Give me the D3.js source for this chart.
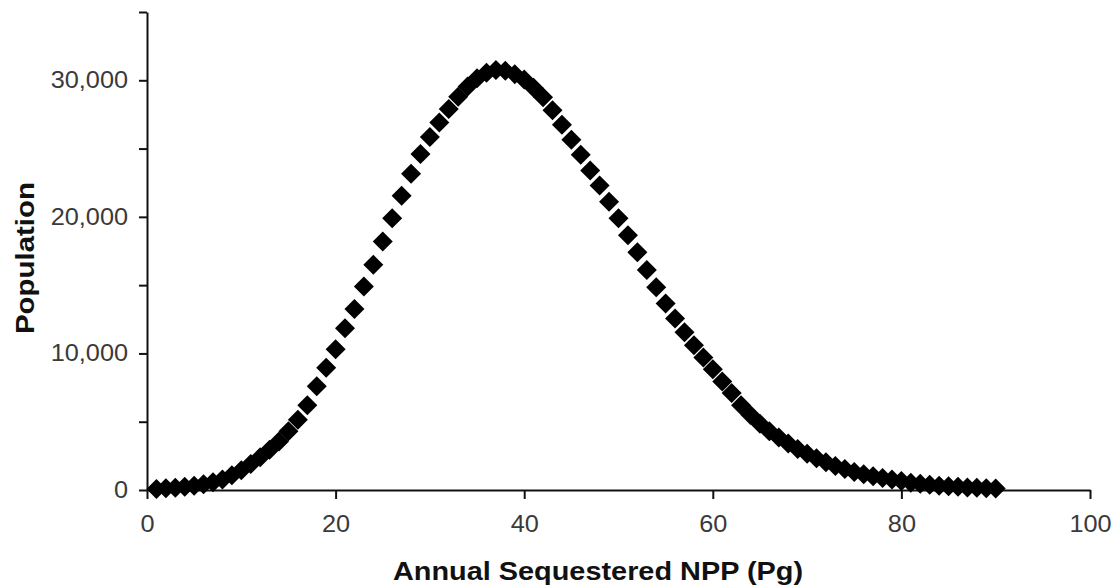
<!DOCTYPE html>
<html>
<head>
<meta charset="utf-8">
<script src="https://cdn.jsdelivr.net/npm/d3@7"></script>
<style>
  body { margin: 0; background: #fff; }
  svg { display: block; font-family: "Liberation Sans", Arial, sans-serif; }
</style>
</head>
<body>
<div id="chart"></div>
<script>
// NPP values (Pg) - one point per unit
var npp = [1,2,3,4,5,6,7,8,9,10,11,12,13,14,15,16,17,18,19,20,
  21,22,23,24,25,26,27,28,29,30,31,32,33,34,35,36,37,38,39,40,
  41,42,43,44,45,46,47,48,49,50,51,52,53,54,55,56,57,58,59,60,
  61,62,63,64,65,66,67,68,69,70,71,72,73,74,75,76,77,78,79,80,
  81,82,83,84,85,86,87,88,89,90];

// population
var population = [80,120,170,230,310,420,560,760,1080,1450,
  1900,2400,2950,3550,4300,5150,6200,7600,8950,10300,
  11850,13250,14900,16500,18200,19900,21550,23150,24600,25850,
  26900,27900,28800,29550,30150,30550,30750,30700,30450,30050,
  29450,28750,27800,26750,25650,24550,23400,22300,21100,19900,
  18650,17400,16100,14850,13650,12550,11550,10600,9700,8850,
  7950,7100,6200,5500,4850,4300,3850,3400,3000,2650,
  2330,2030,1750,1530,1320,1150,1000,880,770,650,
  540,450,380,320,270,230,190,160,130,110];

var xTicks = [0, 20, 40, 60, 80, 100];
var yTicks = [0, 5000, 10000, 15000, 20000, 25000, 30000, 35000];
var yLabels = [0, 10000, 20000, 30000];

var W = 1117, H = 588;
var svg = d3.select("#chart").append("svg")
    .attr("width", W).attr("height", H);

var x = d3.scaleLinear().domain([0, 100]).range([147, 1090]);
var y = d3.scaleLinear().domain([0, 35000]).range([490, 12]);

var fmt = d3.format(",");

// x axis
var gx = svg.append("g")
    .attr("transform", "translate(0," + y(0) + ")")
    .call(d3.axisBottom(x).tickValues(xTicks).tickSize(9).tickSizeOuter(0).tickPadding(10));
gx.select(".domain").attr("stroke", "#111").attr("stroke-width", 2);
gx.selectAll(".tick line").attr("stroke", "#111").attr("stroke-width", 2);
gx.selectAll(".tick text")
    .attr("font-size", 23).attr("fill", "#3a3a3a")
    .attr("transform", "scale(1.1,1)")
    .attr("y", 26);

// y axis
var gy = svg.append("g")
    .attr("transform", "translate(" + x(0) + ",0)")
    .call(d3.axisLeft(y).tickValues(yTicks).tickSize(8).tickSizeOuter(0)
      .tickFormat(function(d) { return yLabels.indexOf(d) >= 0 ? fmt(d) : ""; }));
gy.select(".domain").attr("stroke", "#111").attr("stroke-width", 2);
gy.selectAll(".tick line").attr("stroke", "#111").attr("stroke-width", 2);
gy.selectAll(".tick text")
    .attr("font-size", 23).attr("fill", "#3a3a3a")
    .attr("x", 0)
    .attr("transform", "translate(-19,0) scale(1.1,1)");

// points - rotated squares
var r = 10;
var diamond = "M0," + (-r) + "L" + r + ",0L0," + r + "L" + (-r) + ",0Z";
svg.append("g").selectAll("path")
  .data(npp)
  .enter().append("path")
    .attr("d", diamond)
    .attr("fill", "#000")
    .attr("transform", function(d, i) {
      return "translate(" + x(d) + "," + y(population[i]) + ")";
    });

// axis titles
svg.append("text")
    .attr("x", 598).attr("y", 580)
    .attr("text-anchor", "middle")
    .attr("font-size", 25).attr("font-weight", "bold").attr("fill", "#111")
    .attr("textLength", 410).attr("lengthAdjust", "spacingAndGlyphs")
    .text("Annual Sequestered NPP (Pg)");

svg.append("text")
    .attr("transform", "translate(34,258) rotate(-90)")
    .attr("text-anchor", "middle")
    .attr("font-size", 25).attr("font-weight", "bold").attr("fill", "#111")
    .attr("textLength", 152).attr("lengthAdjust", "spacingAndGlyphs")
    .text("Population");
</script>
</body>
</html>
